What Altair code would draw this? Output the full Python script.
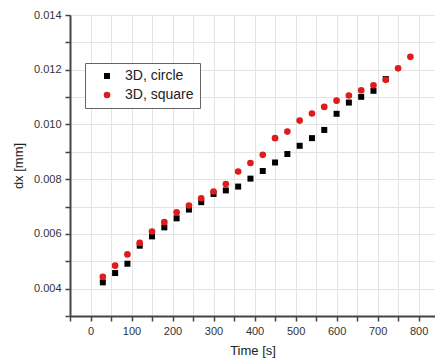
import altair as alt
import pandas as pd

times_circle = [30, 60, 90, 120, 150, 180, 210, 240, 270, 300, 330, 360, 390, 420,
                450, 480, 510, 540, 570, 600, 630, 660, 690, 720]
dx_circle = [0.00423, 0.00457, 0.00491, 0.00557, 0.00591, 0.00624, 0.00657, 0.00689,
             0.00716, 0.00746, 0.00759, 0.00773, 0.00802, 0.00830, 0.00861, 0.00892,
             0.00922, 0.00950, 0.00980, 0.01039, 0.01080, 0.01101, 0.01123, 0.01166]

times_square = [30, 60, 90, 120, 150, 180, 210, 240, 270, 300, 330, 360, 390, 420,
                450, 480, 510, 540, 570, 600, 630, 660, 690, 720, 750, 780]
dx_square = [0.00443, 0.00484, 0.00525, 0.00567, 0.00609, 0.00643, 0.00679, 0.00704,
             0.00730, 0.00755, 0.00782, 0.00828, 0.00859, 0.00889, 0.00950, 0.00974,
             0.01014, 0.01040, 0.01064, 0.01087, 0.01106, 0.01125, 0.01143, 0.01163,
             0.01205, 0.01247]

series_names = ["3D, circle", "3D, square"]

df = pd.concat([
    pd.DataFrame({"t": times_circle, "dx": dx_circle, "s": series_names[0]}),
    pd.DataFrame({"t": times_square, "dx": dx_square, "s": series_names[1]}),
], ignore_index=True)

FONT = "Liberation Sans"
x_ticks = list(range(-50, 851, 50))
y_ticks = [round(0.003 + 0.001 * i, 3) for i in range(12)]

chart = alt.Chart(df).mark_point(filled=True, opacity=1).encode(
    x=alt.X("t:Q", scale=alt.Scale(domain=[-50, 840], nice=False, zero=False),
            axis=alt.Axis(values=x_ticks,
                          labelExpr="datum.value % 100 == 0 ? datum.value : ''",
                          title="Time [s]", labelPadding=4, titlePadding=8)),
    y=alt.Y("dx:Q", scale=alt.Scale(domain=[0.003, 0.014], nice=False, zero=False),
            axis=alt.Axis(values=y_ticks,
                          labelExpr="round(datum.value*1000) % 2 == 0 ? format(datum.value, '.3f') : ''",
                          title="dx [mm]", labelPadding=4, titlePadding=8)),
    color=alt.Color("s:N", scale=alt.Scale(domain=series_names, range=["#000000", "#e01b1b"]),
                    legend=alt.Legend(title=None, orient="none", legendX=15, legendY=48,
                                      strokeColor="#666666", fillColor="white",
                                      padding=6, symbolOffset=9, labelOffset=11,
                                      rowPadding=5, labelFontSize=14, labelFont=FONT,
                                      labelColor="#222222", symbolStrokeWidth=0)),
    shape=alt.Shape("s:N", scale=alt.Scale(domain=series_names, range=["square", "circle"])),
    size=alt.Size("s:N", scale=alt.Scale(domain=series_names, range=[36, 44])),
    order=alt.Order("s:N"),
).properties(
    width=365, height=301,
    padding={"left": 70, "top": 15, "right": 0, "bottom": 48},
    autosize="none",
).configure_view(stroke=None).configure_axis(
    grid=True, gridColor="#e4e4e4", gridWidth=1,
    domainColor="#444444", domainWidth=2,
    tickColor="#444444", tickWidth=1.5, tickSize=5,
    labelFont=FONT, labelFontSize=11, labelColor="#333333",
    titleFont=FONT, titleFontSize=13, titleFontWeight="normal", titleColor="#222222",
)

chart.save("out.html", embed_options={"renderer": "svg", "actions": False})
